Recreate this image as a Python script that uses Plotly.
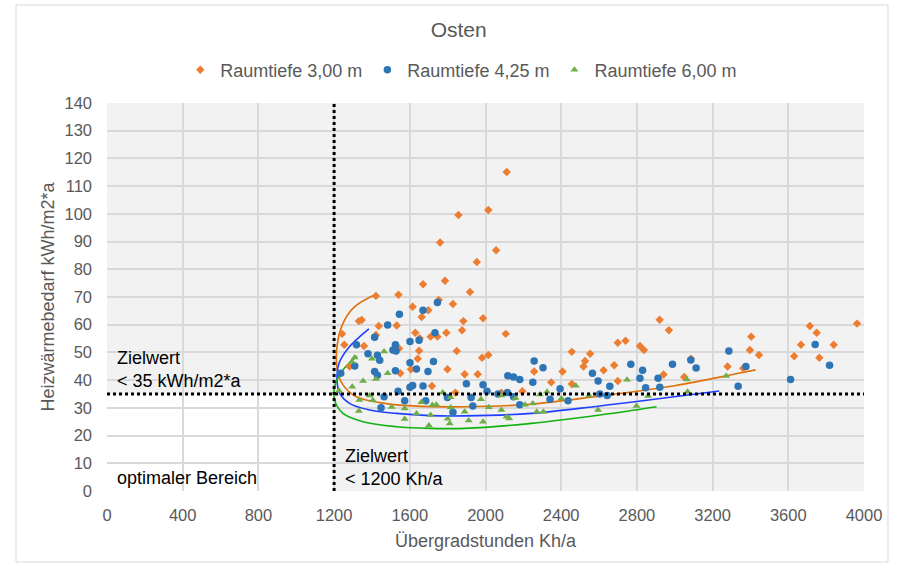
import plotly.graph_objects as go

# ---------------- data ----------------
x_30 = [1242, 1254, 1282, 1331, 1346, 1358, 1421, 1421, 1436, 1531, 1540, 1543, 1550, 1606, 1615, 1629,
        1642, 1649, 1652, 1663, 1670, 1698, 1710, 1717, 1746, 1753, 1760, 1786, 1793, 1799, 1828, 1841,
        1848, 1857, 1876, 1883, 1890, 1918, 1954, 1959, 1982, 1987, 2015, 2015, 2056, 2084, 2107, 2112,
        2195, 2257, 2347, 2407, 2456, 2456, 2518, 2526, 2553, 2624, 2680, 2699, 2699, 2740, 2816, 2837,
        2920, 2941, 2969, 3050, 3085, 3279, 3362, 3397, 3404, 3445, 3631, 3667, 3714, 3750, 3764, 3840, 3963]
y_30 = [56.7, 52.8, 44.9, 61.3, 61.7, 52.3, 70.4, 56.3, 59.5, 59.7, 70.8, 51.4, 42.5, 43.9, 66.5, 57.1,
        47.7, 50.6, 55.1, 62.8, 74.6, 65.2, 55.7, 37.9, 55.7, 68.9, 89.7, 75.9, 57.1, 43.9, 67.5, 35.5,
        50.5, 99.6, 58.0, 61.3, 42.1, 71.8, 82.6, 42.1, 48.1, 62.3, 101.4, 49.1, 86.9, 35.5, 56.7, 115.1,
        36.0, 43.1, 39.2, 43.1, 50.2, 38.6, 44.9, 46.9, 49.5, 43.6, 45.4, 53.5, 39.7, 54.2, 52.3, 50.9,
        61.8, 42.0, 58.0, 41.1, 47.7, 44.9, 44.3, 50.9, 55.7, 49.1, 48.6, 52.8, 59.5, 57.1, 48.1, 52.8, 60.4]

x_425 = [1235, 1309, 1318, 1379, 1414, 1414, 1429, 1429, 1441, 1448, 1464, 1483, 1511, 1524, 1527, 1524,
         1538, 1545, 1573, 1601, 1601, 1601, 1615, 1635, 1649, 1670, 1670, 1684, 1696, 1725, 1733, 1746,
         1799, 1828, 1899, 1924, 1933, 1987, 2008, 2066, 2116, 2118, 2148, 2148, 2181, 2181, 2250, 2257,
         2304, 2341, 2394, 2436, 2565, 2595, 2604, 2643, 2657, 2768, 2816, 2830, 2846, 2912, 2921, 2988,
         3085, 3113, 3286, 3335, 3376, 3612, 3742, 3818]
y_425 = [42.5, 45.1, 52.8, 49.5, 55.5, 43.1, 49.0, 41.8, 47.2, 30.0, 34.0, 59.9, 50.9, 52.8, 50.5, 43.4,
         36.0, 63.8, 32.6, 53.9, 46.3, 37.4, 38.1, 44.0, 54.4, 65.2, 37.9, 32.6, 43.1, 46.7, 57.1, 68.0,
         33.7, 28.4, 38.7, 33.7, 30.7, 38.3, 36.0, 35.0, 35.5, 41.6, 41.1, 34.0, 40.2, 31.1, 39.2, 46.9,
         44.5, 33.1, 36.9, 32.6, 42.5, 39.7, 35.0, 34.5, 37.8, 45.7, 40.7, 43.6, 37.3, 40.7, 37.4, 45.7,
         47.3, 44.4, 50.5, 37.8, 44.9, 40.2, 52.9, 45.4]

x_60 = [1226, 1294, 1296, 1309, 1331, 1333, 1353, 1388, 1400, 1405, 1421, 1464, 1483, 1504, 1573, 1573,
        1636, 1661, 1701, 1710, 1719, 1740, 1774, 1800, 1811, 1816, 1816, 1890, 1911, 1976, 1987, 2017,
        2084, 2084, 2111, 2125, 2158, 2209, 2250, 2271, 2287, 2306, 2325, 2401, 2477, 2547, 2595, 2748,
        2798, 2859, 3064, 3068, 3272]
y_60 = [36.2, 46.6, 37.6, 48.2, 28.9, 32.8, 39.7, 34.5, 47.7, 32.7, 40.4, 50.3, 42.5, 30.3, 29.8, 26.0,
        28.0, 32.0, 23.6, 27.4, 31.0, 31.1, 35.5, 26.1, 24.4, 33.8, 30.1, 28.6, 25.4, 33.1, 25.0, 30.2,
        34.5, 29.2, 26.8, 26.2, 33.6, 31.1, 31.6, 28.6, 34.8, 28.6, 35.8, 33.4, 38.0, 34.5, 29.2, 40.1,
        30.7, 34.3, 40.2, 35.8, 41.5]

# hand-read trend curves
trend_30_x = [1421, 1309, 1247, 1215, 1217, 1247, 1318, 1441, 1617, 1890, 2234, 2604, 3000, 3318, 3427]
trend_30_y = [71.0, 66.5, 60.5, 52.0, 43.7, 38.3, 34.0, 31.9, 30.7, 30.4, 31.3, 34.3, 38.0, 42.2, 43.7]
trend_425_x = [1384, 1282, 1226, 1215, 1229, 1282, 1388, 1529, 1705, 1890, 2243, 2604, 3235]
trend_425_y = [58.5, 52.1, 46.1, 41.2, 35.3, 31.6, 29.2, 28.0, 27.2, 27.1, 28.0, 30.7, 36.1]
trend_60_x = [1321, 1247, 1203, 1203, 1247, 1353, 1529, 1705, 1890, 2243, 2604, 2904]
trend_60_y = [48.7, 43.7, 37.6, 32.8, 28.0, 25.0, 23.2, 22.6, 22.6, 24.4, 27.4, 30.4]

names = ["Raumtiefe 3,00 m", "Raumtiefe 4,25 m", "Raumtiefe 6,00 m"]
x_ticks = [0, 400, 800, 1200, 1600, 2000, 2400, 2800, 3200, 3600, 4000]
y_ticks = [0, 10, 20, 30, 40, 50, 60, 70, 80, 90, 100, 110, 120, 130, 140]
target_x = 1200
target_y = 35

FONT = "Liberation Sans, Arial, sans-serif"
GREY = "#595959"

fig = go.Figure()

# trend curves first (below markers)
fig.add_trace(go.Scatter(x=trend_30_x, y=trend_30_y, mode="lines", showlegend=False,
                         line=dict(color="#E0700A", width=1.6, shape="spline", smoothing=1.0), hoverinfo="skip"))
fig.add_trace(go.Scatter(x=trend_425_x, y=trend_425_y, mode="lines", showlegend=False,
                         line=dict(color="#1F3FFF", width=1.6, shape="spline", smoothing=1.0), hoverinfo="skip"))
fig.add_trace(go.Scatter(x=trend_60_x, y=trend_60_y, mode="lines", showlegend=False,
                         line=dict(color="#11B211", width=1.6, shape="spline", smoothing=1.0), hoverinfo="skip"))

fig.add_trace(go.Scatter(x=x_30, y=y_30, mode="markers", name=names[0],
                         marker=dict(symbol="diamond", size=6.5, color="#ED7D31")))
fig.add_trace(go.Scatter(x=x_425, y=y_425, mode="markers", name=names[1],
                         marker=dict(symbol="circle", size=7.5, color="#2E75B6")))
fig.add_trace(go.Scatter(x=x_60, y=y_60, mode="markers", name=names[2],
                         marker=dict(symbol="triangle-up", size=7, color="#70AD47")))

# target lines
fig.add_shape(type="line", x0=0, x1=4000, y0=target_y, y1=target_y, xref="x", yref="y",
              line=dict(color="black", width=3, dash="dot"), layer="above")
fig.add_shape(type="line", x0=target_x, x1=target_x, y0=0, y1=140, xref="x", yref="y",
              line=dict(color="black", width=3, dash="dot"), layer="above")
# white "optimal" area
fig.add_shape(type="rect", x0=0, x1=target_x, y0=0, y1=target_y, xref="x", yref="y",
              fillcolor="white", line=dict(width=0), layer="below")
# chart frame (around whole chart area)
fig.add_shape(type="rect", x0=-0.1202, x1=1.0317, y0=-0.183, y1=1.2526, xref="paper", yref="paper",
              line=dict(color="#D9D9D9", width=1), fillcolor="rgba(0,0,0,0)", layer="below")

ANN = dict(family=FONT, size=18, color="black")
fig.add_annotation(x=40, y=44, xref="x", yref="y", text="Zielwert<br>< 35 kWh/m2*a", showarrow=False,
                   xanchor="left", yanchor="middle", align="left", font=ANN)
fig.add_annotation(x=1245, y=8.5, xref="x", yref="y", text="Zielwert<br>< 1200 Kh/a", showarrow=False,
                   xanchor="left", yanchor="middle", align="left", font=ANN)
fig.add_annotation(x=40, y=4.7, xref="x", yref="y", text="optimaler Bereich", showarrow=False,
                   xanchor="left", yanchor="middle", align="left", font=ANN)

fig.update_layout(
    width=903, height=567,
    margin=dict(l=107, r=39, t=103, b=76),
    paper_bgcolor="white", plot_bgcolor="#F2F2F2",
    font=dict(family=FONT, size=16, color=GREY),
    title=dict(text="Osten", x=0.508, xref="container", xanchor="center", y=1 - 30 / 567,
               yref="container", yanchor="middle",
               font=dict(family=FONT, size=21, color=GREY)),
    legend=dict(orientation="h", x=0.468, xanchor="center", y=1.085, yanchor="middle",
                font=dict(family=FONT, size=18, color=GREY), itemwidth=30,
                bgcolor="rgba(0,0,0,0)"),
    showlegend=True,
)
fig.update_xaxes(range=[0, 4000], tickvals=x_ticks, ticktext=[str(v) for v in x_ticks],
                 showgrid=True, gridcolor="#D9D9D9", gridwidth=1.5, zeroline=False,
                 showline=False, ticks="", ticklabelstandoff=12,
                 title=dict(text="Übergradstunden Kh/a", standoff=11,
                            font=dict(family=FONT, size=18, color=GREY)),
                 tickfont=dict(family=FONT, size=16.5, color=GREY))
fig.update_yaxes(range=[0, 140], tickvals=y_ticks, ticktext=[str(v) for v in y_ticks],
                 showgrid=True, gridcolor="#D9D9D9", gridwidth=1.5, zeroline=False,
                 showline=False, ticks="", ticklabelstandoff=14,
                 title=dict(text="Heizwärmebedarf kWh/m2*a", standoff=5,
                            font=dict(family=FONT, size=18, color=GREY)),
                 tickfont=dict(family=FONT, size=16.5, color=GREY))

fig.write_html("out.html", config={"displayModeBar": False},
               post_script="document.body.style.margin='0';")
